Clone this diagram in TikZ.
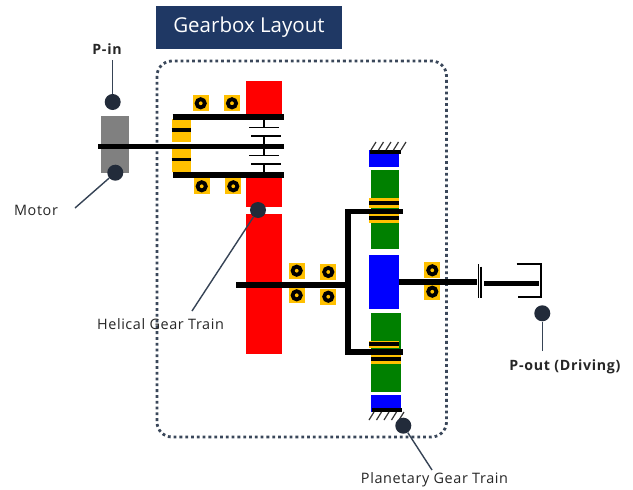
\documentclass[tikz,border=0pt]{standalone}
\usepackage{fontspec}
\setmainfont{Open Sans}
\newfontfamily\spaced[LetterSpace=4.2]{Open Sans}
\newfontfamily\spacedb[LetterSpace=4.8]{Open Sans Bold}
\definecolor{dotc}{HTML}{222B3A}
\definecolor{frameC}{HTML}{44546A}
\definecolor{titleC}{HTML}{1F3864}
\definecolor{amber}{HTML}{FFC000}
\definecolor{gearG}{HTML}{008000}
\tikzset{
  x=1pt,y=-1pt,
  bar/.style={line width=5.6pt,black},
  thinbar/.style={line width=3.8pt,black},
  plate/.style={line width=1.6pt,black},
  pin/.style={circle,fill=dotc,minimum size=16pt,inner sep=0pt},
  leader/.style={line width=1.4pt,draw=frameC!80!black},
  lbl/.style={font=\spaced\fontsize{14.4}{17}\selectfont,text=black!85,inner sep=0pt},
  blbl/.style={font=\spacedb\fontsize{14.2}{17}\selectfont,text=black!85,inner sep=0pt},
  hatch/.style={line width=1.2pt,black!80},
}
\newcommand{\brg}[2]{%
  \fill[amber] (#1-8,#2-8) rectangle (#1+8,#2+8);
  \draw[black,line width=3.8pt] (#1,#2) circle (4.1);
}
\newcommand{\rc}[5]{\fill[#1] (#2,#3) rectangle (#4,#5);}
\begin{document}
\begin{tikzpicture}
\useasboundingbox (0,0) rectangle (633,490);
\fill[white] (0,0) rectangle (633,490);
% frame
\draw[frameC!85!black,line width=2.8pt,dash pattern=on 2.8pt off 3pt,rounded corners=15pt] (157,61) rectangle (446.5,437);
% title
\node[fill=titleC,text=white,minimum width=186pt,minimum height=43pt,inner sep=0pt,font=\fontsize{20.5}{22}\selectfont] (title) at (249,27) {Gearbox Layout};
% motor
\rc{gray}{100.7}{116}{129}{173}
% helical gears
\rc{red}{246}{80.7}{282.3}{114}
\rc{red}{246}{177.3}{282.3}{207}
\rc{red}{246}{214}{282.3}{354}
% input carrier
\rc{amber}{171.7}{119.3}{190.7}{142}
\rc{amber}{171.7}{149.3}{190.7}{172}
\draw[thinbar] (171.7,130) -- (190.7,130);
\draw[thinbar] (171.7,159.5) -- (190.7,159.5);
\draw[bar] (98.3,146.3) -- (284,146.3);
\draw[bar] (172.7,116.7) -- (284,116.7);
\draw[bar] (172.7,174.7) -- (284,174.7);
% clutch plates
\draw[plate] (264,116.7) -- (264,127.3) (249.3,127.3) -- (279.3,127.3);
\draw[plate] (264,136) -- (264,146.3) (251.3,136) -- (281.3,136);
\draw[plate] (264,146.3) -- (264,155.3) (249.3,155.3) -- (279.3,155.3);
\draw[plate] (264,164) -- (264,174.7) (251.3,164) -- (281.3,164);
% bearings
\brg{200.7}{103.3}\brg{232}{103.3}\brg{201.7}{186.3}\brg{233.3}{186.3}
\brg{296.7}{270.7}\brg{328.3}{272}\brg{296.7}{295.3}\brg{328.3}{296.7}
\brg{432.3}{270.3}\brg{432.3}{291.7}
% planetary
\rc{blue}{369.3}{150}{399.3}{166.7}
\rc{gearG}{371}{170.3}{399.3}{249.3}
\rc{blue}{369.3}{254.7}{399.3}{309.3}
\rc{gearG}{371}{312.7}{401}{391.7}
\rc{blue}{371}{395}{401}{411.7}
\rc{amber}{369.3}{198.3}{399.3}{208}
\rc{amber}{369.3}{213.3}{399.3}{222.7}
\rc{amber}{369.3}{340.7}{399.3}{347.7}
\rc{amber}{371}{355}{401}{363.7}
\draw[thinbar] (369.3,203.3) -- (399.3,203.3);
\draw[thinbar] (369.3,217.7) -- (399.3,217.7);
\draw[thinbar] (369.3,344) -- (399.3,344);
\draw[thinbar] (371,359.3) -- (401,359.3);
\draw[thinbar] (370,152) -- (400.5,152);
\draw[thinbar] (371.5,409.7) -- (401.5,409.7);
\foreach \i in {0,1,2,3,4}{
  \draw[hatch] ({371+\i*7.5},150) -- ({376+\i*7.5},142);
  \draw[hatch] ({369+\i*7.5},420) -- ({374+\i*7.5},412);
}
% shafts
\draw[bar] (236,285) -- (348,285);
\draw[bar] (402.7,211.3) -- (348,211.3) -- (348,351.7) -- (402.5,351.7);
\draw[bar] (399,281.7) -- (477.3,281.7);
\draw[plate] (478.3,264) -- (478.3,298) (481,266.7) -- (481,298);
\draw[bar] (484,283.3) -- (539,283.3);
\draw[plate] (516.7,264) -- (541,264) -- (541,296.7) -- (518.3,296.7);
% labels
\node[blbl] (pinl) at (107,49) {P-in};
\node[lbl] (motl) at (36,210) {Motor};
\node[lbl] (hell) at (160.5,324) {Helical Gear Train};
\node[lbl] (plal) at (434.5,480) {Planetary Gear Train};
\node[blbl] (poutl) at (565,367) {P-out (Driving)};
% pins
\node[pin] (pind) at (112.7,102) {};
\node[pin] (motd) at (115.3,172.7) {};
\node[pin] (held) at (258,210) {};
\node[pin] (plad) at (403.3,425.7) {};
\node[pin] (poutd) at (542.3,313.3) {};
\coordinate (pinc) at (112.7,60);
\coordinate (motc) at (75,208);
\coordinate (helc) at (192,311);
\coordinate (plac) at (432,470);
\coordinate (poutc) at (542.3,351);
\draw[leader] (pinc) -- (pind);
\draw[leader] (motc) -- (motd);
\draw[leader] (helc) -- (held);
\draw[leader] (plac) -- (plad);
\draw[leader] (poutc) -- (poutd);
\end{tikzpicture}
\end{document}
